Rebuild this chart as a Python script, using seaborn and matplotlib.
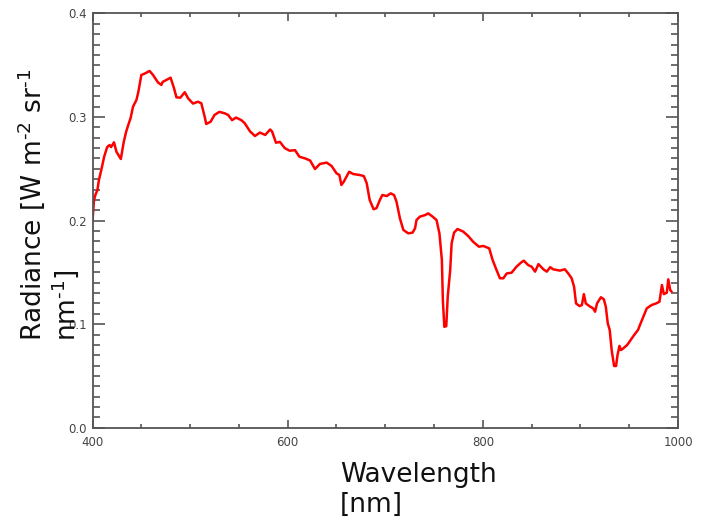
import numpy as np
import pandas as pd
import matplotlib
matplotlib.use("Agg")
import matplotlib.pyplot as plt
from matplotlib.ticker import MultipleLocator
import seaborn as sns

# spectrum
wavelength = [
    400, 401.5, 403, 405, 406.5, 409, 412, 415, 417.5, 419, 422, 424.5, 429, 432, 434.5,
    436.5, 439, 441.5, 445, 447, 450, 453.5, 458.5, 462, 467, 470.5, 472, 475.5, 480,
    483.5, 486, 490, 494.5, 498, 503, 508, 511.5, 515, 516.5, 521, 525, 530, 535.5, 539,
    543, 547, 552.5, 556, 561.5, 566.5, 571.5, 577, 582, 584, 588, 592, 597, 602, 607.5,
    612, 618, 623, 628, 633, 640, 645, 650, 653, 655, 657.5, 663, 667, 674, 678, 681,
    684, 688, 691, 694.5, 697, 701.5, 705.5, 709, 711.5, 715, 718.5, 723.5, 728, 730.5,
    732, 735.5, 741, 744, 748.5, 752.5, 755.5, 758, 759, 760.5, 762.5, 764, 766.5, 768,
    770.5, 774, 780, 785, 790, 796, 800.5, 806.5, 810, 814, 817.5, 821, 824.5, 829.5,
    834.5, 839, 842, 846.5, 850, 853.5, 857, 862, 865.5, 869, 872, 879, 884, 887.5, 891,
    893.5, 895.5, 899, 901.5, 903.5, 905.5, 910, 913, 915, 917, 921, 924, 926, 928, 930,
    932, 934.5, 936.5, 938, 940, 941.5, 944, 948, 951.5, 955, 959, 961, 964.5, 968, 973,
    977.5, 981, 983.5, 985.5, 988.5, 990, 992, 993.5,
]
radiance = [
    0.200, 0.220, 0.225, 0.2295, 0.239, 0.249, 0.262, 0.271, 0.273, 0.271, 0.2756, 0.2665,
    0.2595, 0.276, 0.286, 0.292, 0.299, 0.310, 0.3165, 0.3245, 0.3406, 0.342, 0.3445,
    0.3406, 0.3335, 0.331, 0.334, 0.3358, 0.338, 0.3278, 0.319, 0.3187, 0.324, 0.318,
    0.313, 0.3148, 0.3133, 0.300, 0.2933, 0.2955, 0.302, 0.305, 0.3036, 0.302, 0.297,
    0.2995, 0.297, 0.294, 0.286, 0.2817, 0.285, 0.2827, 0.288, 0.286, 0.2752, 0.276,
    0.270, 0.2675, 0.268, 0.2617, 0.260, 0.258, 0.2498, 0.2547, 0.256, 0.2527, 0.2457,
    0.244, 0.2344, 0.2376, 0.2472, 0.245, 0.244, 0.243, 0.236, 0.220, 0.211, 0.212,
    0.220, 0.2247, 0.2237, 0.2263, 0.2247, 0.2183, 0.2022, 0.191, 0.1877, 0.1884, 0.1925,
    0.2006, 0.2038, 0.2054, 0.207, 0.2038, 0.2006, 0.1877, 0.162, 0.1233, 0.0975, 0.098,
    0.1265, 0.152, 0.178, 0.1884, 0.1919, 0.1893, 0.1851, 0.1796, 0.1748, 0.1755, 0.1732,
    0.162, 0.1523, 0.1443, 0.1443, 0.149, 0.1497, 0.1555, 0.1594, 0.1613, 0.157, 0.1555,
    0.1507, 0.158, 0.153, 0.1507, 0.155, 0.153, 0.1517, 0.153, 0.149, 0.1443, 0.136,
    0.120, 0.1175, 0.1185, 0.129, 0.120, 0.1169, 0.1153, 0.112, 0.120, 0.126, 0.124,
    0.1169, 0.1008, 0.0944, 0.075, 0.0596, 0.0596, 0.0702, 0.079, 0.075, 0.0767, 0.080,
    0.0847, 0.0895, 0.0944, 0.0992, 0.1072, 0.1153, 0.1185, 0.120, 0.1217, 0.1378, 0.129,
    0.1304, 0.1433, 0.133, 0.1313,
]

df = pd.DataFrame({"wl": wavelength, "rad": radiance})

sns.set_style("ticks")
plt.rcParams['font.family'] = ['DejaVu Sans']

fig = plt.figure(figsize=(7.14, 5.31), dpi=100)
ax = fig.add_axes([0.1296, 0.1945, 0.8200, 0.7801])

sns.lineplot(data=df, x="wl", y="rad", color="#ff0000", linewidth=1.8, ax=ax)

ax.set_xlim(400, 1000)
ax.set_ylim(0, 0.4)
ax.xaxis.set_major_locator(MultipleLocator(200))
ax.xaxis.set_minor_locator(MultipleLocator(50))
ax.yaxis.set_major_locator(MultipleLocator(0.1))
ax.yaxis.set_minor_locator(MultipleLocator(0.01))
ax.yaxis.set_major_formatter(matplotlib.ticker.FormatStrFormatter("%.1f"))
ax.xaxis.set_major_formatter(matplotlib.ticker.FormatStrFormatter("%d"))

ax.tick_params(axis="both", which="both", direction="in", top=True, right=True,
               color="#555555", labelcolor="#444444", labelsize=8.5)
ax.tick_params(axis="x", which="major", length=6, width=1.2, pad=6)
ax.tick_params(axis="x", which="minor", length=3, width=1.2)
ax.tick_params(axis="y", which="major", length=8.5, width=1.2, pad=4)
ax.tick_params(axis="y", which="minor", length=5, width=1.2)
for s in ax.spines.values():
    s.set_visible(True)
    s.set_color("#555555")
    s.set_linewidth(1.3)

ax.set_xlabel("")
ax.set_ylabel("")

fig.text(340 / 714, 1 - 462 / 531, "Wavelength\n[nm]", ha="left", va="top",
         fontsize=19, color="#111111", multialignment="left")
fig.text(15 / 714, 1 - 341 / 531,
         "Radiance [W m$^{\\text{-2}}$ sr$^{\\text{-1}}$\nnm$^{\\text{-1}}$]",
         rotation=90, ha="left", va="bottom", fontsize=19, color="#111111",
         multialignment="left", linespacing=1.1)

fig.savefig("out.png", dpi=100)
